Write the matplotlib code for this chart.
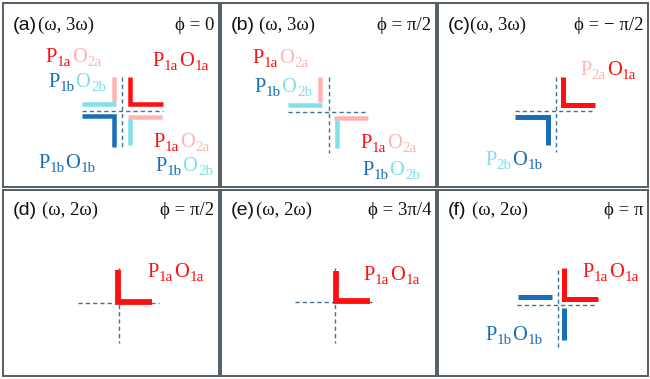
import matplotlib
matplotlib.use("Agg")
import matplotlib.pyplot as plt
from matplotlib.lines import Line2D

W, H = 650, 379
RED = "#ff1010"
PINK = "#ffb4b4"
BLUE = "#1a6eb6"
CYAN = "#7fe0ea"
DASH = "#3f7396"
FRAME = "#555d66"

SERIF = ["Liberation Serif", "DejaVu Serif"]
SANS = ["Liberation Sans", "DejaVu Sans"]

# panel frames in pixel coordinates: left, top, right, bottom
panel_rects = [(3, 3, 219, 187), (221, 3, 436, 187), (438, 3, 648, 187),
               (3, 190, 219, 376), (221, 190, 436, 376), (438, 190, 648, 376)]
panel_tags = ["(a)", "(b)", "(c)", "(d)", "(e)", "(f)"]
harmonics = ["(ω, 3ω)", "(ω, 3ω)", "(ω, 3ω)", "(ω, 2ω)", "(ω, 2ω)", "(ω, 2ω)"]
phases = ["ϕ = 0", "ϕ = π/2", "ϕ = − π/2", "ϕ = π/2", "ϕ = 3π/4", "ϕ = π"]
harm_x = [38, 259, 470, 42, 256, 472]

# dashed cross-hairs: vertical (x, y0, y1), horizontal (y, x0, x1)
cross_v = [(122, 77, 148), (328.5, 77, 153), (556, 77, 152),
           (118.5, 268, 343), (335, 268, 343), (557.5, 270, 347)]
cross_h = [(110.5, 82, 163), (111.5, 288, 368), (110.5, 515, 595),
           (302.5, 78, 159), (301.5, 295, 375), (305, 517, 597)]

# bar width (px) per panel
bar_w = [4.5, 4.5, 5, 5.8, 5.8, 5]

# bars per panel: list of (points, colour)
bars = [
    [([(130, 77), (130, 104), (163, 104)], RED),
     ([(114, 77), (114, 101.5)], PINK),
     ([(82, 103.5), (116.3, 103.5)], CYAN),
     ([(82, 116), (114, 116), (114, 147)], BLUE),
     ([(127.7, 117), (162, 117)], PINK),
     ([(130, 119), (130, 145)], CYAN)],
    [([(320, 77), (320, 102.3)], PINK),
     ([(288, 104.5), (322.3, 104.5)], CYAN),
     ([(334.2, 118), (368, 118)], PINK),
     ([(336.5, 120.2), (336.5, 148)], CYAN)],
    [([(563, 77), (563, 104.5), (595, 104.5)], RED),
     ([(515, 116.5), (547.5, 116.5), (547.5, 145)], BLUE)],
    [([(118, 270), (118, 302), (152, 302)], RED)],
    [([(336, 271), (336, 300.5), (370, 300.5)], RED)],
    [([(564, 268), (564, 299), (598, 299)], RED),
     ([(518, 296.7), (552, 296.7)], BLUE),
     ([(564, 308), (564, 340)], BLUE)],
]

P1a, O1a, O2a, P2a = ("P", "1a", RED), ("O", "1a", RED), ("O", "2a", PINK), ("P", "2a", PINK)
P1b, O1b, O2b, P2b = ("P", "1b", BLUE), ("O", "1b", BLUE), ("O", "2b", CYAN), ("P", "2b", CYAN)

# labels per panel: (x, baseline y, pieces)
labels = [
    [(45, 62, [P1a, O2a]), (48, 87, [P1b, O2b]), (152, 66, [P1a, O1a]),
     (153, 147, [P1a, O2a]), (155, 171, [P1b, O2b]), (38, 168, [P1b, O1b])],
    [(252, 63, [P1a, O2a]), (254, 92, [P1b, O2b]),
     (360, 148, [P1a, O2a]), (362, 175, [P1b, O2b])],
    [(580, 75, [P2a, O1a]), (485, 165, [P2b, O1b])],
    [(147, 277, [P1a, O1a])],
    [(363, 280, [P1a, O1a])],
    [(582, 277, [P1a, O1a]), (485, 340, [P1b, O1b])],
]

MAIN_FS = 14.8
SUB_FS = 10.8


def px(v):
    return v * 72.0 / 100.0


def draw_label(ax, x, y, pieces):
    prev = None
    for main, sub, color in pieces:
        if prev is None:
            t = ax.text(x, y, main, color=color, fontsize=MAIN_FS, family=SERIF,
                        ha="left", va="baseline")
        else:
            t = ax.annotate(main, xy=(1, y), xycoords=(prev, "data"),
                            xytext=(0.5, 0), textcoords="offset points",
                            color=color, fontsize=MAIN_FS, family=SERIF,
                            ha="left", va="baseline")
        s = ax.annotate(sub, xy=(1, y), xycoords=(t, "data"),
                        xytext=(0.3, -3.0), textcoords="offset points",
                        color=color, fontsize=SUB_FS, family=SERIF,
                        ha="left", va="baseline")
        prev = s


fig = plt.figure(figsize=(W / 100, H / 100), dpi=100)
fig.patch.set_facecolor("white")

for i, (l, t, r, b) in enumerate(panel_rects):
    ax = fig.add_axes([l / W, 1 - b / H, (r - l) / W, (b - t) / H])
    ax.set_xlim(l, r)
    ax.set_ylim(b, t)
    ax.set_xticks([])
    ax.set_yticks([])
    for sp in ax.spines.values():
        sp.set_color(FRAME)
        sp.set_linewidth(1.4)

    cx, vy0, vy1 = cross_v[i]
    hy, hx0, hx1 = cross_h[i]
    ax.plot([cx, cx], [vy0, vy1], color=DASH, lw=px(1.4), dashes=(3, 2.2), zorder=1)
    ax.plot([hx0, hx1], [hy, hy], color=DASH, lw=px(1.4), dashes=(3, 2.2), zorder=1)

    for pts, col in bars[i]:
        xs = [p[0] for p in pts]
        ys = [p[1] for p in pts]
        ax.add_line(Line2D(xs, ys, color=col, lw=px(bar_w[i]),
                           solid_capstyle="butt", solid_joinstyle="miter", zorder=2))

    for x, y, pieces in labels[i]:
        draw_label(ax, x, y, pieces)

    base = t + 27 if i < 3 else t + 25
    ax.text(l + 10, base, panel_tags[i], fontsize=14, family=SANS,
            ha="left", va="baseline", color="#111111")
    ax.text(harm_x[i], base, harmonics[i], fontsize=13.5, family=SERIF,
            ha="left", va="baseline", color="#111111")
    ax.text(r - 5, base, phases[i], fontsize=13.5, family=SERIF,
            ha="right", va="baseline", color="#111111")

fig.savefig("out.png", dpi=100, facecolor="white")
